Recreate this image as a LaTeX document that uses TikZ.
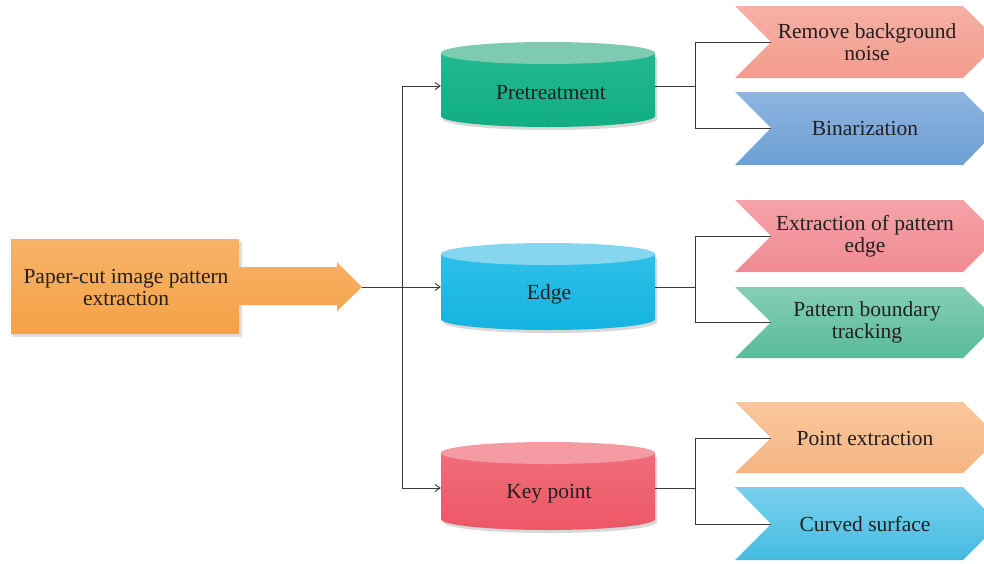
\documentclass[tikz,border=0pt]{standalone}
\usepackage{fontspec}
\setmainfont{Liberation Serif}
\usetikzlibrary{arrows.meta,calc}
\definecolor{linec}{HTML}{3A3A3A}
\definecolor{txt}{HTML}{231F20}
\begin{document}
\begin{tikzpicture}[x=1pt,y=-1pt,
  lbl/.style={align=center,text=txt,font=\fontsize{21.5}{22}\selectfont,inner sep=0pt},
  conn/.style={draw=linec,line width=0.9pt},
  arr/.style={conn,-{Straight Barb[length=5pt,width=7pt,line width=0.9pt]}},
  anchorbox/.style={minimum width=214pt,minimum height=70pt,inner sep=0pt}]
\useasboundingbox (0,0) rectangle (984,563);
\fill[white] (0,0) rectangle (984,563);

% ---------- main orange block arrow ----------
\fill[black!25,opacity=0.5] (13,242) rectangle (242,337);
\definecolor{orT}{HTML}{F7B36A}\definecolor{orB}{HTML}{F5A244}
\shade[top color=orT,bottom color=orB]
  (11,239) -- (239,239) -- (239,267) -- (337,267) -- (337,262) -- (362,287)
  -- (337,311) -- (337,305) -- (239,305) -- (239,334) -- (11,334) -- cycle;
\node[lbl] (src) at (126,287) {Paper-cut image pattern\\extraction};
\coordinate (tip) at (362,287);
\coordinate (trunk) at (402,287);

% ---------- cylinders ----------
\definecolor{gT}{HTML}{7FCBB1}\definecolor{gB1}{HTML}{22B890}\definecolor{gB2}{HTML}{10AE83}
\definecolor{cT}{HTML}{86D6EF}\definecolor{cB1}{HTML}{2EC0E8}\definecolor{cB2}{HTML}{14B3E0}
\definecolor{rT}{HTML}{F49AA2}\definecolor{rB1}{HTML}{F06D79}\definecolor{rB2}{HTML}{EC5766}

% Pretreatment
\fill[black!30,opacity=0.5] (443,57) -- (443,119) arc[start angle=180,end angle=360,x radius=107pt,y radius=11pt] -- (657,57) -- cycle;
\shade[top color=gB1,bottom color=gB2] (441,53) -- (441,116) arc[start angle=180,end angle=360,x radius=107pt,y radius=11pt] -- (655,53) -- cycle;
\fill[gT] (548,53) ellipse[x radius=107pt,y radius=11pt];
\node[anchorbox] (pre) at (548,86) {};
\node[lbl] (preT) at (551,93) {Pretreatment};

% Edge
\fill[black!30,opacity=0.5] (443,258) -- (443,322) arc[start angle=180,end angle=360,x radius=107pt,y radius=11pt] -- (657,258) -- cycle;
\shade[top color=cB1,bottom color=cB2] (441,254) -- (441,319) arc[start angle=180,end angle=360,x radius=107pt,y radius=11pt] -- (655,254) -- cycle;
\fill[cT] (548,254) ellipse[x radius=107pt,y radius=11pt];
\node[anchorbox] (edge) at (548,287) {};
\node[lbl] (edgeT) at (549,294) {Edge};

% Key point
\fill[black!30,opacity=0.5] (443,457) -- (443,522) arc[start angle=180,end angle=360,x radius=107pt,y radius=11pt] -- (657,457) -- cycle;
\shade[top color=rB1,bottom color=rB2] (441,453) -- (441,519) arc[start angle=180,end angle=360,x radius=107pt,y radius=11pt] -- (655,453) -- cycle;
\fill[rT] (548,453) ellipse[x radius=107pt,y radius=11pt];
\node[anchorbox] (key) at (548,488) {};
\node[lbl] (keyT) at (549,494) {Key point};

% ---------- chevrons ----------
\definecolor{c1T}{HTML}{F6B0A4}\definecolor{c1B}{HTML}{F29C8E}
\definecolor{c2T}{HTML}{8DB5E0}\definecolor{c2B}{HTML}{6E9FD4}
\definecolor{c3T}{HTML}{F5A3A8}\definecolor{c3B}{HTML}{F08A92}
\definecolor{c4T}{HTML}{84CFB4}\definecolor{c4B}{HTML}{5ABB98}
\definecolor{c5T}{HTML}{F9C79C}\definecolor{c5B}{HTML}{F6B582}
\definecolor{c6T}{HTML}{79D0EC}\definecolor{c6B}{HTML}{45BCE2}

\shade[top color=c1T,bottom color=c1B] (735,6) -- (963,6) -- (999,42) -- (963,78) -- (735,78) -- (771,42) -- cycle;
\shade[top color=c2T,bottom color=c2B] (735,92) -- (963,92) -- (999,128) -- (963,165) -- (735,165) -- (771,128) -- cycle;
\shade[top color=c3T,bottom color=c3B] (735,200) -- (963,200) -- (999,236) -- (963,272) -- (735,272) -- (771,236) -- cycle;
\shade[top color=c4T,bottom color=c4B] (735,287) -- (963,287) -- (999,322) -- (963,358) -- (735,358) -- (771,322) -- cycle;
\shade[top color=c5T,bottom color=c5B] (735,402) -- (963,402) -- (999,438) -- (963,473) -- (735,473) -- (771,438) -- cycle;
\shade[top color=c6T,bottom color=c6B] (735,487) -- (963,487) -- (999,524) -- (963,560) -- (735,560) -- (771,524) -- cycle;

\coordinate (n1) at (771,42);  \coordinate (n2) at (771,128);
\coordinate (n3) at (771,236); \coordinate (n4) at (771,322);
\coordinate (n5) at (771,438); \coordinate (n6) at (771,524);

\node[lbl] (c1) at (867,42) {Remove background\\noise};
\node[lbl] (c2) at (865,128) {Binarization};
\node[lbl] (c3) at (865,236) {Extraction of pattern\\edge};
\node[lbl] (c4) at (867,322) {Pattern boundary\\tracking};
\node[lbl] (c5) at (865,438) {Point extraction};
\node[lbl] (c6) at (865,524) {Curved surface};

% ---------- connectors ----------
\draw[conn] (tip) -- (trunk);
\draw[conn] (pre.west -| trunk) -- (key.west -| trunk);
\draw[arr] (pre.west -| trunk) -- (pre.west);
\draw[arr] (trunk) -- (edge.west);
\draw[arr] (key.west -| trunk) -- (key.west);

\draw[conn] (pre.east) -- ++(40,0);
\draw[conn] (n1) -| ($(pre.east)+(40,0)$) |- (n2);
\draw[conn] (edge.east) -- ++(40,0);
\draw[conn] (n3) -| ($(edge.east)+(40,0)$) |- (n4);
\draw[conn] (key.east) -- ++(40,0);
\draw[conn] (n5) -| ($(key.east)+(40,0)$) |- (n6);
\end{tikzpicture}
\end{document}
